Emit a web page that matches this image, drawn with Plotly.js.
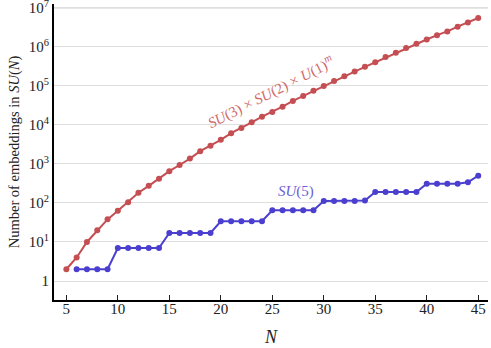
<!DOCTYPE html>
<html>
<head>
<meta charset="utf-8">
<script src="https://cdn.plot.ly/plotly-3.0.1.min.js"></script>
<style>
  html, body { margin: 0; padding: 0; background: #fff; }
  #plot { width: 491px; height: 348px; }
</style>
</head>
<body>
<div id="plot"></div>
<script>
// N values for each series
const nRed = [5, 6, 7, 8, 9, 10, 11, 12, 13, 14, 15, 16, 17, 18, 19, 20, 21, 22, 23, 24, 25,
  26, 27, 28, 29, 30, 31, 32, 33, 34, 35, 36, 37, 38, 39, 40, 41, 42, 43, 44, 45];
const smEmbeddings = [2, 4, 10, 20, 38, 63, 105, 183, 275, 420, 655, 940, 1370, 2130, 2950,
  4150, 6150, 8300, 11700, 16300, 21400, 29300, 41300, 55500, 75000, 100000, 134000,
  178000, 233000, 309000, 405000, 548000, 705000, 934000, 1200000, 1550000, 2000000,
  2500000, 3300000, 4200000, 5500000];

const nBlue = [6, 7, 8, 9, 10, 11, 12, 13, 14, 15, 16, 17, 18, 19, 20, 21, 22, 23, 24, 25,
  26, 27, 28, 29, 30, 31, 32, 33, 34, 35, 36, 37, 38, 39, 40, 41, 42, 43, 44, 45];
const su5Embeddings = [2, 2, 2, 2, 7, 7, 7, 7, 7, 17, 17, 17, 17, 17, 34, 34, 34, 34, 34,
  65, 65, 65, 65, 65, 113, 113, 113, 113, 115, 191, 191, 191, 191, 191, 311, 311, 311, 311,
  340, 500];

const yTickVals = [1, 10, 100, 1e3, 1e4, 1e5, 1e6, 1e7];
const yTickText = ['1', '10<sup>1</sup>', '10<sup>2</sup>', '10<sup>3</sup>', '10<sup>4</sup>',
  '10<sup>5</sup>', '10<sup>6</sup>', '10<sup>7</sup>'];
const xTickVals = [5, 10, 15, 20, 25, 30, 35, 40, 45];

const red = '#c44e52';
const blue = '#4b3fcf';
const grid = '#dedede';
const serif = 'Liberation Serif, DejaVu Serif, serif';

const traces = [
  {
    x: nRed, y: smEmbeddings, type: 'scatter', mode: 'lines+markers',
    line: { color: red, width: 2 }, marker: { color: red, size: 6 }
  },
  {
    x: nBlue, y: su5Embeddings, type: 'scatter', mode: 'lines+markers',
    line: { color: blue, width: 2 }, marker: { color: blue, size: 6 }
  }
];

const layout = {
  width: 491, height: 348,
  margin: { l: 54, r: 3, t: 4, b: 48 },
  paper_bgcolor: '#fff', plot_bgcolor: 'rgba(0,0,0,0)',
  showlegend: false,
  font: { family: serif, size: 15, color: '#222' },
  xaxis: {
    range: [3.8, 45.95],
    tickvals: xTickVals,
    ticks: 'inside', ticklen: 5, tickwidth: 1, tickcolor: '#222',
    ticklabelstandoff: -6,
    showgrid: false, zeroline: false,
    showline: true, linecolor: '#000', linewidth: 2,
    title: { text: '<i>N</i>', standoff: 14 }
  },
  yaxis: {
    type: 'log',
    range: [-0.487, 7.10],
    tickvals: yTickVals, ticktext: yTickText,
    ticklabeloverflow: 'allow',
    ticks: '', showgrid: true, gridcolor: grid, gridwidth: 1,
    zeroline: false, showline: true, linecolor: '#000', linewidth: 2,
    title: { text: 'Number of embeddings in <i>SU</i>(<i>N</i>)', standoff: 6, font: { size: 14.5 } }
  },
  // gridline at the top decade, which plotly drops near the edge
  shapes: [
    { type: 'line', xref: 'paper', x0: 0, x1: 1, yref: 'paper', y0: 0.9857, y1: 0.9857,
      line: { color: grid, width: 1 }, layer: 'above' }
  ],
  annotations: [
    {
      x: 24.9, y: 4.85, xref: 'x', yref: 'y',
      text: '<i>SU</i>(3) × <i>SU</i>(2) × <i>U</i>(1)<sup><i>m</i></sup>',
      showarrow: false, textangle: -27,
      font: { family: serif, size: 15, color: '#d06a6a' }
    },
    {
      x: 27.3, y: 2.29, xref: 'x', yref: 'y',
      text: '<i>SU</i>(5)',
      showarrow: false,
      font: { family: serif, size: 15, color: '#6a5fd8' }
    }
  ]
};

Plotly.newPlot('plot', traces, layout, { displayModeBar: false, staticPlot: true });
</script>
</body>
</html>
